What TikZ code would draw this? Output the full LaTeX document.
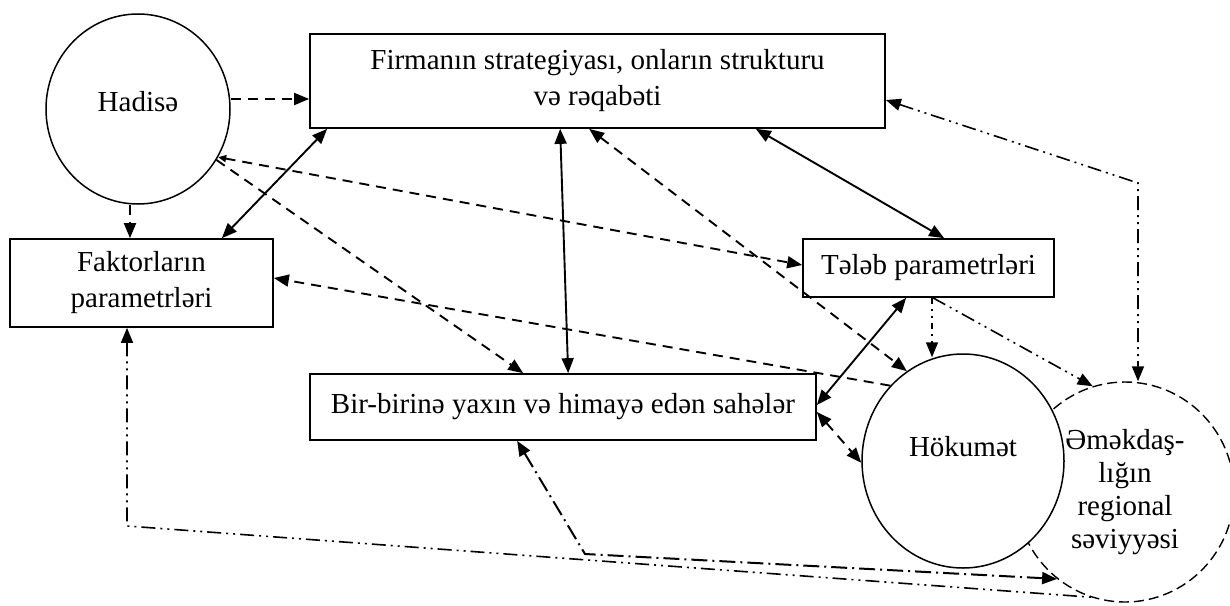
\documentclass[tikz,border=0pt]{standalone}
\usepackage{fontspec}
\setmainfont{Liberation Serif}
\usetikzlibrary{arrows.meta,shapes.geometric,calc}
\begin{document}
\begin{tikzpicture}[x=1pt,y=-1pt,
  >={Triangle[length=15pt,width=12pt]},
  every node/.style={font=\fontsize{29}{36}\selectfont},
  box/.style={draw,line width=1.7pt,rectangle,inner sep=0pt,align=center},
  circ/.style={draw,ellipse,line width=1.5pt,inner sep=0pt},
  sol/.style={line width=1.9pt},
  dsh/.style={line width=1.9pt,dash pattern=on 10pt off 7pt},
  ddot/.style={line width=1.6pt,dash pattern=on 14pt off 5pt on 2pt off 5pt on 2pt off 5pt},
  ddash/.style={line width=2pt,dash pattern=on 16pt off 5pt on 2pt off 5pt},
  dtt/.style={line width=1.6pt,dash pattern=on 6pt off 5pt on 2pt off 5pt on 2pt off 5pt},
  regdash/.style={line width=1.4pt,dash pattern=on 10pt off 5pt}
]
\useasboundingbox (0,0) rectangle (1230,605);

% nodes
\node[circ,minimum width=184pt,minimum height=190pt,label={[yshift=7pt]center:Hadisə}] (hadise) at (138,109) {};
\node[box,minimum width=575pt,minimum height=94pt] (firm) at (597.5,81) {Firmanın strategiyası, onların strukturu\\və rəqabəti};
\node[box,minimum width=263pt,minimum height=88pt] (faktor) at (141.5,283) {Faktorların\\parametrləri};
\node[box,minimum width=251pt,minimum height=58pt] (talab) at (928.5,268) {Tələb parametrləri};
\node[box,minimum width=506pt,minimum height=66pt] (bir) at (563,407) {Bir-birinə yaxın və himayə edən sahələr};
\node[circ,regdash,minimum width=218pt,minimum height=220pt,align=center,font=\fontsize{29}{33}\selectfont] (regional) at (1125,492) {Əməkdaş-\\lığın\\regional\\səviyyəsi};
\node[circ,fill=white,minimum width=202pt,minimum height=214pt,label={[yshift=14pt]center:Hökumət}] (hokumet) at (963,461) {};

% helper coordinates
\coordinate (f1) at ([yshift=-18pt]firm.west);
\coordinate (h1) at ([xshift=-8pt]hadise.south);
\coordinate (t1) at ([xshift=3.5pt]talab.south);
\coordinate (t2) at (t1 |- hokumet.north);
\path (regional.north) ++(13,0) coordinate (rn);
\coordinate (rc) at (rn |- 0,183);
\coordinate (fk) at ([xshift=-14.5pt]faktor.south);
\coordinate (fc) at (fk |- 0,526);
\coordinate (bs) at ([xshift=208pt]bir.south west);
\coordinate (bc) at (585,554);

% connectors
\draw[dsh,->] (f1 -| hadise.east) -- (f1);
\draw[dsh,->] (h1) -- (h1 |- faktor.north);
\draw[sol,<->] ([xshift=18pt]firm.south west) -- ([xshift=-52pt]faktor.north east);
\draw[sol,<->] ([xshift=251pt]firm.south west) -- ([xshift=259pt]bir.north west);
\draw[sol,<->] ([xshift=-130pt]firm.south east) -- ([xshift=142pt]talab.north west);
\draw[dsh,{Triangle[length=8pt,width=7pt]}->] (hadise.-31) -- ([yshift=3pt]talab.west);
\draw[dsh,->] (hadise.-33) -- ([xshift=214pt]bir.north west);
\draw[dsh,->] (hokumet.134) -- ([yshift=5pt]faktor.east);
\draw[dsh,<->] ([xshift=280pt]firm.south west) -- (hokumet.122);
\draw[sol,<->] ([xshift=104pt]talab.south west) -- ([yshift=2pt]bir.east);
\draw[dsh,<->] ([yshift=-5pt]bir.east) -- (hokumet.181);
\draw[dtt,->] (t1) -- ([yshift=-4pt]t2);
\draw[ddot,->] ([xshift=4.5pt]talab.south) -- (regional.107);
\draw[ddot,<->] ([yshift=-19pt]firm.east) -- (rc) -- (rn);
\draw[ddot,<-] (fk) -- (fc) -- (regional.252);
\draw[ddash,<->] (bs) -- (bc) -- (regional.232);
\end{tikzpicture}
\end{document}
